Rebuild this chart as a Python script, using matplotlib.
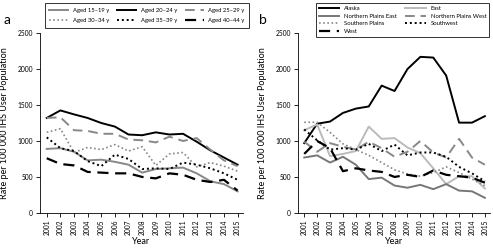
import matplotlib.pyplot as plt

plt.rcParams['font.family'] = ['Lato', 'DejaVu Sans']

years = list(range(2001, 2016))

# panel a - age groups
age_15_19 = [890, 900, 850, 730, 740, 710, 670, 560, 610, 620, 630, 550, 440, 400, 300]
age_20_24 = [1320, 1425, 1370, 1320, 1250, 1200, 1090, 1080, 1120, 1090, 1100, 990, 870, 770, 670]
age_25_29 = [1320, 1330, 1150, 1140, 1100, 1100, 1020, 1010, 980, 1060, 1000, 1040, 880, 730, 650]
age_30_34 = [1120, 1170, 840, 910, 880, 950, 860, 920, 660, 820, 840, 640, 700, 650, 580]
age_35_39 = [1050, 900, 860, 720, 650, 810, 750, 610, 620, 610, 700, 670, 620, 550, 460]
age_40_44 = [760, 680, 660, 570, 560, 550, 550, 500, 480, 550, 530, 460, 430, 460, 310]

# panel b - regions
alaska = [970, 1240, 1270, 1390, 1450, 1480, 1770, 1695, 2000, 2170, 2160, 1910, 1255, 1255, 1345]
east = [1150, 1230, 790, 820, 860, 1200, 1030, 1040, 910, 830, 620, 400, 510, 510, 340]
np_east = [770, 800, 700, 780, 670, 470, 490, 380, 350, 390, 330, 400, 310, 300, 210]
np_west = [990, 850, 970, 920, 880, 990, 900, 780, 850, 1000, 840, 770, 1030, 770, 670]
s_plains = [1260, 1260, 1120, 960, 880, 800, 700, 600, 540, 510, 560, 640, 560, 470, 380]
southwest = [1160, 1010, 880, 900, 880, 960, 860, 950, 800, 840, 840, 780, 640, 550, 440]
west = [820, 1000, 900, 580, 620, 590, 570, 500, 530, 500, 590, 530, 510, 490, 420]

fig = plt.figure(figsize=(4.93, 2.49), dpi=100)
ax1 = fig.add_axes([0.081, 0.145, 0.412, 0.722])
ax2 = fig.add_axes([0.604, 0.145, 0.39, 0.722])

l1, = ax1.plot(years, age_15_19, color='#888888', lw=1.4, label='Aged 15\u201319 y')
l2, = ax1.plot(years, age_20_24, color='black', lw=1.4, label='Aged 20\u201324 y')
l3, = ax1.plot(years, age_25_29, color='#888888', lw=1.4, ls=(0, (5, 3)), label='Aged 25\u201329 y')
l4, = ax1.plot(years, age_30_34, color='#888888', lw=1.2, ls=(0, (1, 1.5)), label='Aged 30\u201334 y')
l5, = ax1.plot(years, age_35_39, color='black', lw=1.4, ls=(0, (1, 1.5)), label='Aged 35\u201339 y')
l6, = ax1.plot(years, age_40_44, color='black', lw=1.6, ls=(0, (5, 3)), label='Aged 40\u201344 y')

r1, = ax2.plot(years, alaska, color='black', lw=1.4, label='Alaska')
r2, = ax2.plot(years, east, color='#bbbbbb', lw=1.4, label='East')
r3, = ax2.plot(years, np_east, color='#777777', lw=1.4, label='Northern Plains East')
r4, = ax2.plot(years, np_west, color='#888888', lw=1.4, ls=(0, (5, 3)), label='Northern Plains West')
r5, = ax2.plot(years, s_plains, color='#888888', lw=1.2, ls=(0, (1, 1.5)), label='Southern Plains')
r6, = ax2.plot(years, southwest, color='black', lw=1.4, ls=(0, (1, 1.5)), label='Southwest')
r7, = ax2.plot(years, west, color='black', lw=1.6, ls=(0, (5, 3)), label='West')

for ax in (ax1, ax2):
    ax.set_xlim(2000.5, 2015.4)
    ax.set_ylim(0, 2500)
    ax.set_yticks([0, 500, 1000, 1500, 2000, 2500])
    ax.set_xticks(years)
    ax.set_xticklabels([str(y) for y in years], rotation=90)
    ax.tick_params(labelsize=4.8, length=3, width=0.6, pad=2)
    ax.spines['top'].set_visible(False)
    ax.spines['right'].set_visible(False)
    ax.spines['left'].set_linewidth(0.6)
    ax.spines['bottom'].set_linewidth(0.6)
    ax.set_xlabel('Year', fontsize=6.5, labelpad=1)
    ax.set_ylabel('Rate per 100 000 IHS User Population', fontsize=6.5, labelpad=6)

leg1 = fig.legend([l1, l4, l2, l5, l3, l6],
                  [h.get_label() for h in [l1, l4, l2, l5, l3, l6]],
                  ncol=3, loc='upper left', bbox_to_anchor=(0.085, 1.0),
                  fontsize=4.2, frameon=True, fancybox=False, edgecolor='black',
                  handlelength=3.2, handletextpad=0.8, columnspacing=1.4,
                  borderpad=0.8, labelspacing=0.9)
leg1.get_frame().set_linewidth(0.7)

leg2 = fig.legend([r1, r3, r5, r7, r2, r4, r6],
                  [h.get_label() for h in [r1, r3, r5, r7, r2, r4, r6]],
                  ncol=2, loc='upper left', bbox_to_anchor=(0.635, 1.0),
                  fontsize=4.2, frameon=True, fancybox=False, edgecolor='black',
                  handlelength=3.5, handletextpad=0.8, columnspacing=1.5,
                  borderpad=0.5, labelspacing=0.45)
leg2.get_frame().set_linewidth(0.7)

fig.text(0.008, 0.905, 'a', fontsize=10)
fig.text(0.525, 0.905, 'b', fontsize=10)

fig.savefig('out.png', dpi=100)
